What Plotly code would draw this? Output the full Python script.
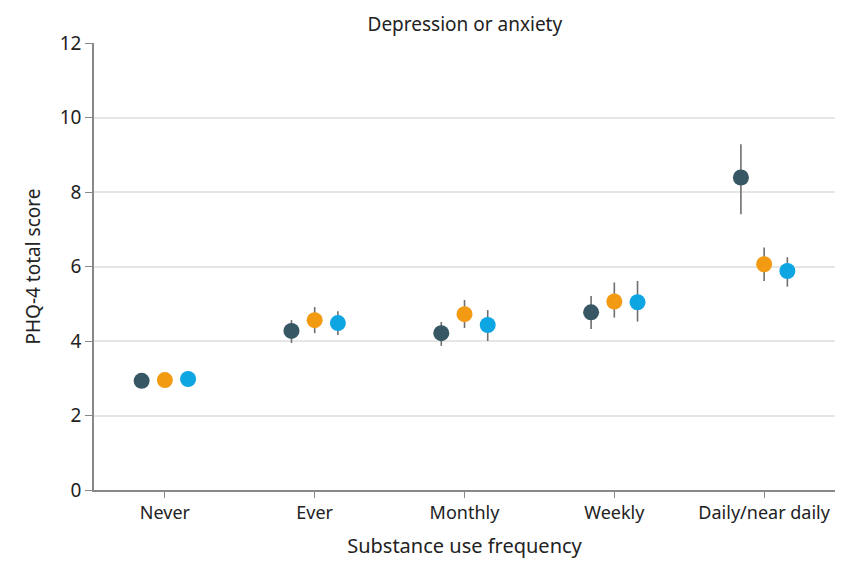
import plotly.graph_objects as go

categories = ["Never", "Ever", "Monthly", "Weekly", "Daily/near daily"]
series_names = ["Group A", "Group B", "Group C"]
colors = ["#365763", "#f29a12", "#0ea5e3"]

means = [
    [2.93, 4.27, 4.21, 4.77, 8.39],
    [2.95, 4.56, 4.72, 5.06, 6.06],
    [2.98, 4.48, 4.43, 5.04, 5.88],
]
upper = [
    [3.00, 4.56, 4.51, 5.21, 9.28],
    [3.02, 4.91, 5.10, 5.57, 6.51],
    [3.05, 4.80, 4.83, 5.61, 6.25],
]
lower = [
    [2.86, 3.95, 3.87, 4.32, 7.40],
    [2.88, 4.21, 4.35, 4.63, 5.61],
    [2.91, 4.16, 4.00, 4.52, 5.46],
]
offsets = [-0.155, 0.0, 0.155]

fig = go.Figure()
for s in range(3):
    xs = [i + offsets[s] for i in range(len(categories))]
    fig.add_trace(go.Scatter(
        x=xs, y=means[s], mode="markers", name=series_names[s],
        marker=dict(color=colors[s], size=16, line=dict(width=0)),
        error_y=dict(type="data", symmetric=False,
                     array=[u - m for u, m in zip(upper[s], means[s])],
                     arrayminus=[m - l for m, l in zip(means[s], lower[s])],
                     color="#6e6e6e", thickness=1.6, width=0),
        showlegend=False,
    ))

font_family = "Noto Sans, Open Sans, sans-serif"
fig.update_layout(
    width=846, height=570,
    margin=dict(l=86, r=19, t=35, b=88),
    plot_bgcolor="white", paper_bgcolor="white",
    font=dict(family=font_family, color="#222222"),
    title=dict(text="Depression or anxiety", x=0.540, xanchor="center",
               y=0.972, yanchor="middle", font=dict(size=19, color="#222222")),
    xaxis=dict(
        range=[-0.473, 4.473], tickmode="array",
        tickvals=list(range(len(categories))), ticktext=categories,
        showgrid=False, zeroline=False, showline=True, linecolor="#888888",
        linewidth=1.5, ticks="outside", ticklen=6, tickcolor="#888888",
        tickfont=dict(size=18), automargin=False,
        title=dict(text="Substance use frequency", font=dict(size=20), standoff=16),
    ),
    yaxis=dict(
        range=[0, 12], tickvals=[0, 2, 4, 6, 8, 10, 12],
        showgrid=True, gridcolor="#e6e6e6", gridwidth=1.5,
        zeroline=False, showline=True, linecolor="#888888", linewidth=1.5,
        ticks="outside", ticklen=7, tickcolor="#888888",
        tickfont=dict(size=19), automargin=False,
        title=dict(text="PHQ-4 total score", font=dict(size=19), standoff=14),
    ),
)

fig.write_html("out.html")
